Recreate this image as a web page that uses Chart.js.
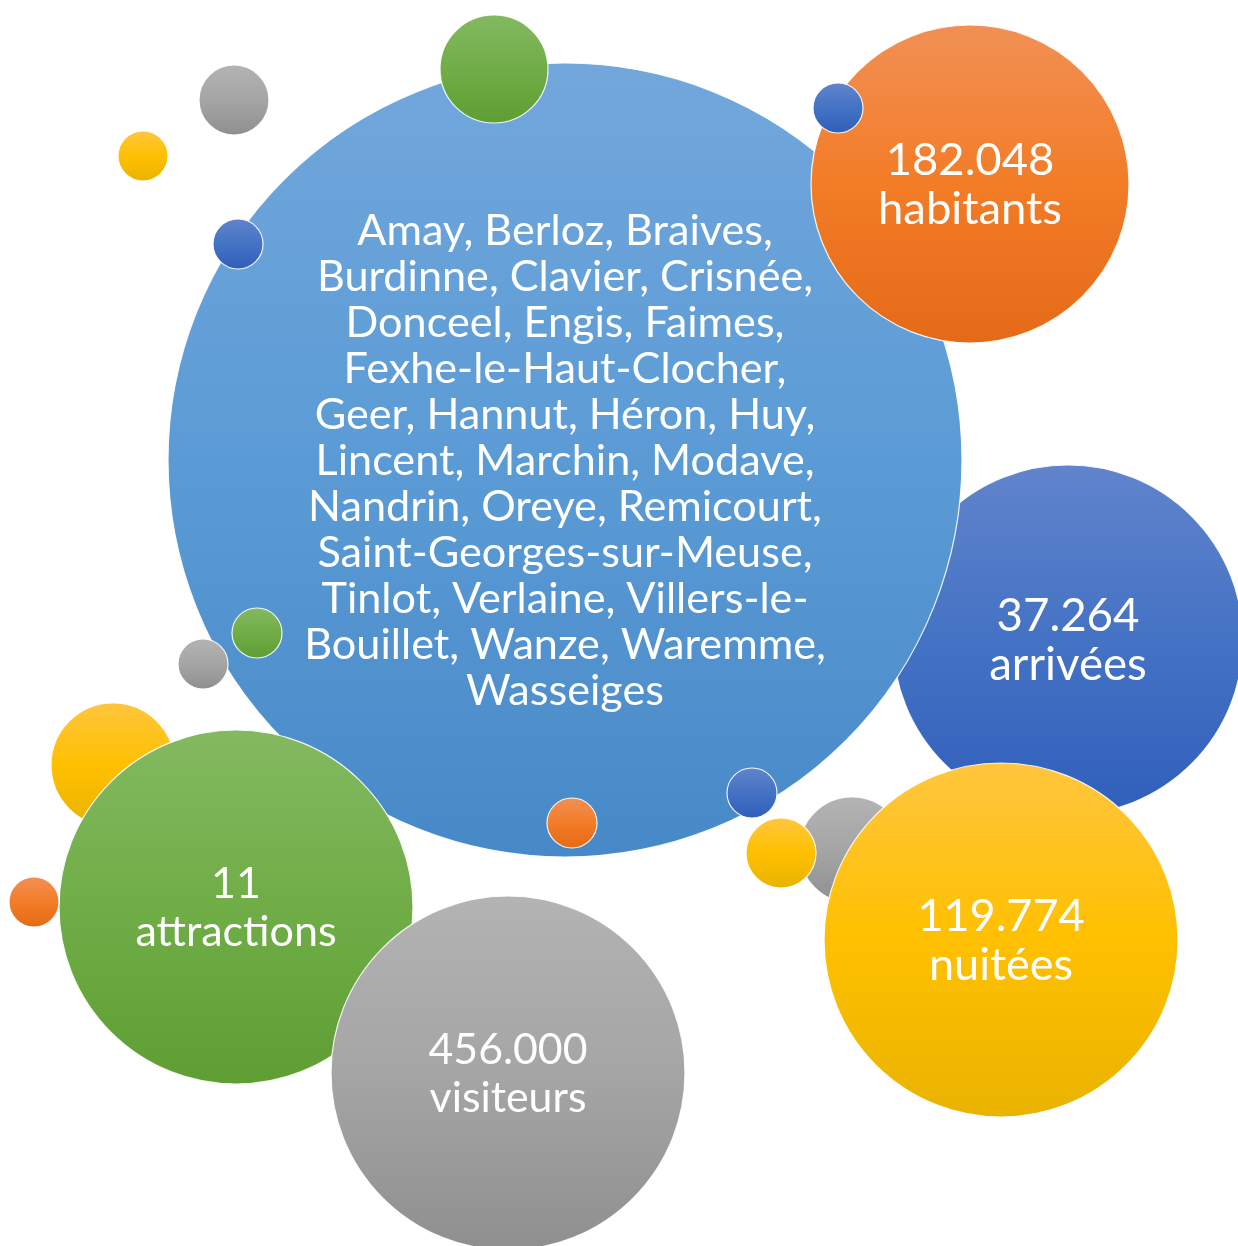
<!DOCTYPE html>
<html>
<head>
<meta charset="utf-8">
<script src="https://cdn.jsdelivr.net/npm/chart.js@4.4.1/dist/chart.umd.min.js"></script>
<style>
  html, body { margin: 0; padding: 0; background: #ffffff; }
  #wrap { width: 1238px; height: 1246px; position: relative; }
</style>
</head>
<body>
<div id="wrap"><canvas id="c"></canvas></div>
<script>
// Bubble layout (drawn bottom to top)
const bubbleX = [113, 1068, 852, 565, 494, 234, 143, 238, 970, 838, 257, 203, 572, 752, 781, 1001, 236, 34, 508];
const bubbleY = [765, 640, 850, 460, 69, 100, 156, 244, 184, 108, 633, 664, 823, 793, 853, 940, 907, 902, 1073];
const bubbleR = [62, 175, 53, 397, 54, 35, 25, 25, 159, 25, 25, 25, 25, 25, 35, 177, 177, 25, 177];
const bubbleTone = ['yellow', 'navy', 'gray', 'blue', 'green', 'gray', 'yellow', 'navy', 'orange', 'navy', 'green', 'gray', 'orange', 'navy', 'yellow', 'yellow', 'green', 'orange', 'gray'];
const bubbleText = [
  null, ['37.264', 'arrivées'], null,
  ['Amay, Berloz, Braives,', 'Burdinne, Clavier, Crisnée,', 'Donceel, Engis, Faimes,', 'Fexhe-le-Haut-Clocher,',
   'Geer, Hannut, Héron, Huy,', 'Lincent, Marchin, Modave,', 'Nandrin, Oreye, Remicourt,', 'Saint-Georges-sur-Meuse,',
   'Tinlot, Verlaine, Villers-le-', 'Bouillet, Wanze, Waremme,', 'Wasseiges'],
  null, null, null, null, ['182.048', 'habitants'], null, null, null, null, null, null,
  ['119.774', 'nuitées'], ['11', 'attractions'], null, ['456.000', 'visiteurs']
];
const textSize = [0, 45.6, 0, 43.2, 0, 0, 0, 0, 45.4, 0, 0, 0, 0, 0, 0, 45, 43, 0, 42.8];

const palette = {
  blue:   ['#72a7dc', '#5b9bd5', '#4789c8'],
  orange: ['#f19055', '#f37c27', '#e46a17'],
  navy:   ['#6184cc', '#4472c4', '#305fbb'],
  yellow: ['#ffc63e', '#ffc000', '#e9b300'],
  green:  ['#83b960', '#70ad47', '#5e9e33'],
  gray:   ['#b3b3b3', '#a5a5a5', '#8f8f8f']
};

const points = bubbleX.map((x, i) => ({ x: x, y: bubbleY[i], r: bubbleR[i] }));

function fillFor(context) {
  const chart = context.chart;
  const raw = context.raw;
  if (!raw || !chart.chartArea) return '#5b9bd5';
  const yPx = chart.scales.y.getPixelForValue(raw.y);
  const stops = palette[bubbleTone[context.dataIndex]];
  const g = chart.ctx.createLinearGradient(0, yPx - raw.r, 0, yPx + raw.r);
  g.addColorStop(0, stops[0]);
  g.addColorStop(0.5, stops[1]);
  g.addColorStop(1, stops[2]);
  return g;
}

const textPlugin = {
  id: 'bubbleText',
  afterDatasetsDraw(chart) {
    const c = chart.ctx;
    const meta = chart.getDatasetMeta(0);
    c.save();
    c.fillStyle = '#ffffff';
    c.textAlign = 'center';
    c.textBaseline = 'middle';
    meta.data.forEach((el, i) => {
      const lines = bubbleText[i];
      if (!lines) return;
      const big = lines.length > 2;
      const size = textSize[i];
      const lh = big ? 46 : 48.5;
      c.font = size + 'px Lato, "Open Sans", sans-serif';
      const top = el.y - (lines.length - 1) * lh / 2 + 1;
      lines.forEach((t, k) => c.fillText(t, el.x, top + k * lh));
    });
    c.restore();
  }
};

new Chart(document.getElementById('c'), {
  type: 'bubble',
  data: {
    datasets: [{
      data: points,
      backgroundColor: fillFor,
      borderColor: 'rgba(255,255,255,0.9)',
      borderWidth: 1.2,
      clip: false
    }]
  },
  options: {
    responsive: true,
    maintainAspectRatio: false,
    animation: false,
    events: [],
    layout: { padding: 0, autoPadding: false },
    plugins: { legend: { display: false }, tooltip: { enabled: false } },
    scales: {
      x: { type: 'linear', min: 0, max: 1238, display: false },
      y: { type: 'linear', min: 0, max: 1246, reverse: true, display: false }
    }
  },
  plugins: [textPlugin]
});
</script>
</body>
</html>
